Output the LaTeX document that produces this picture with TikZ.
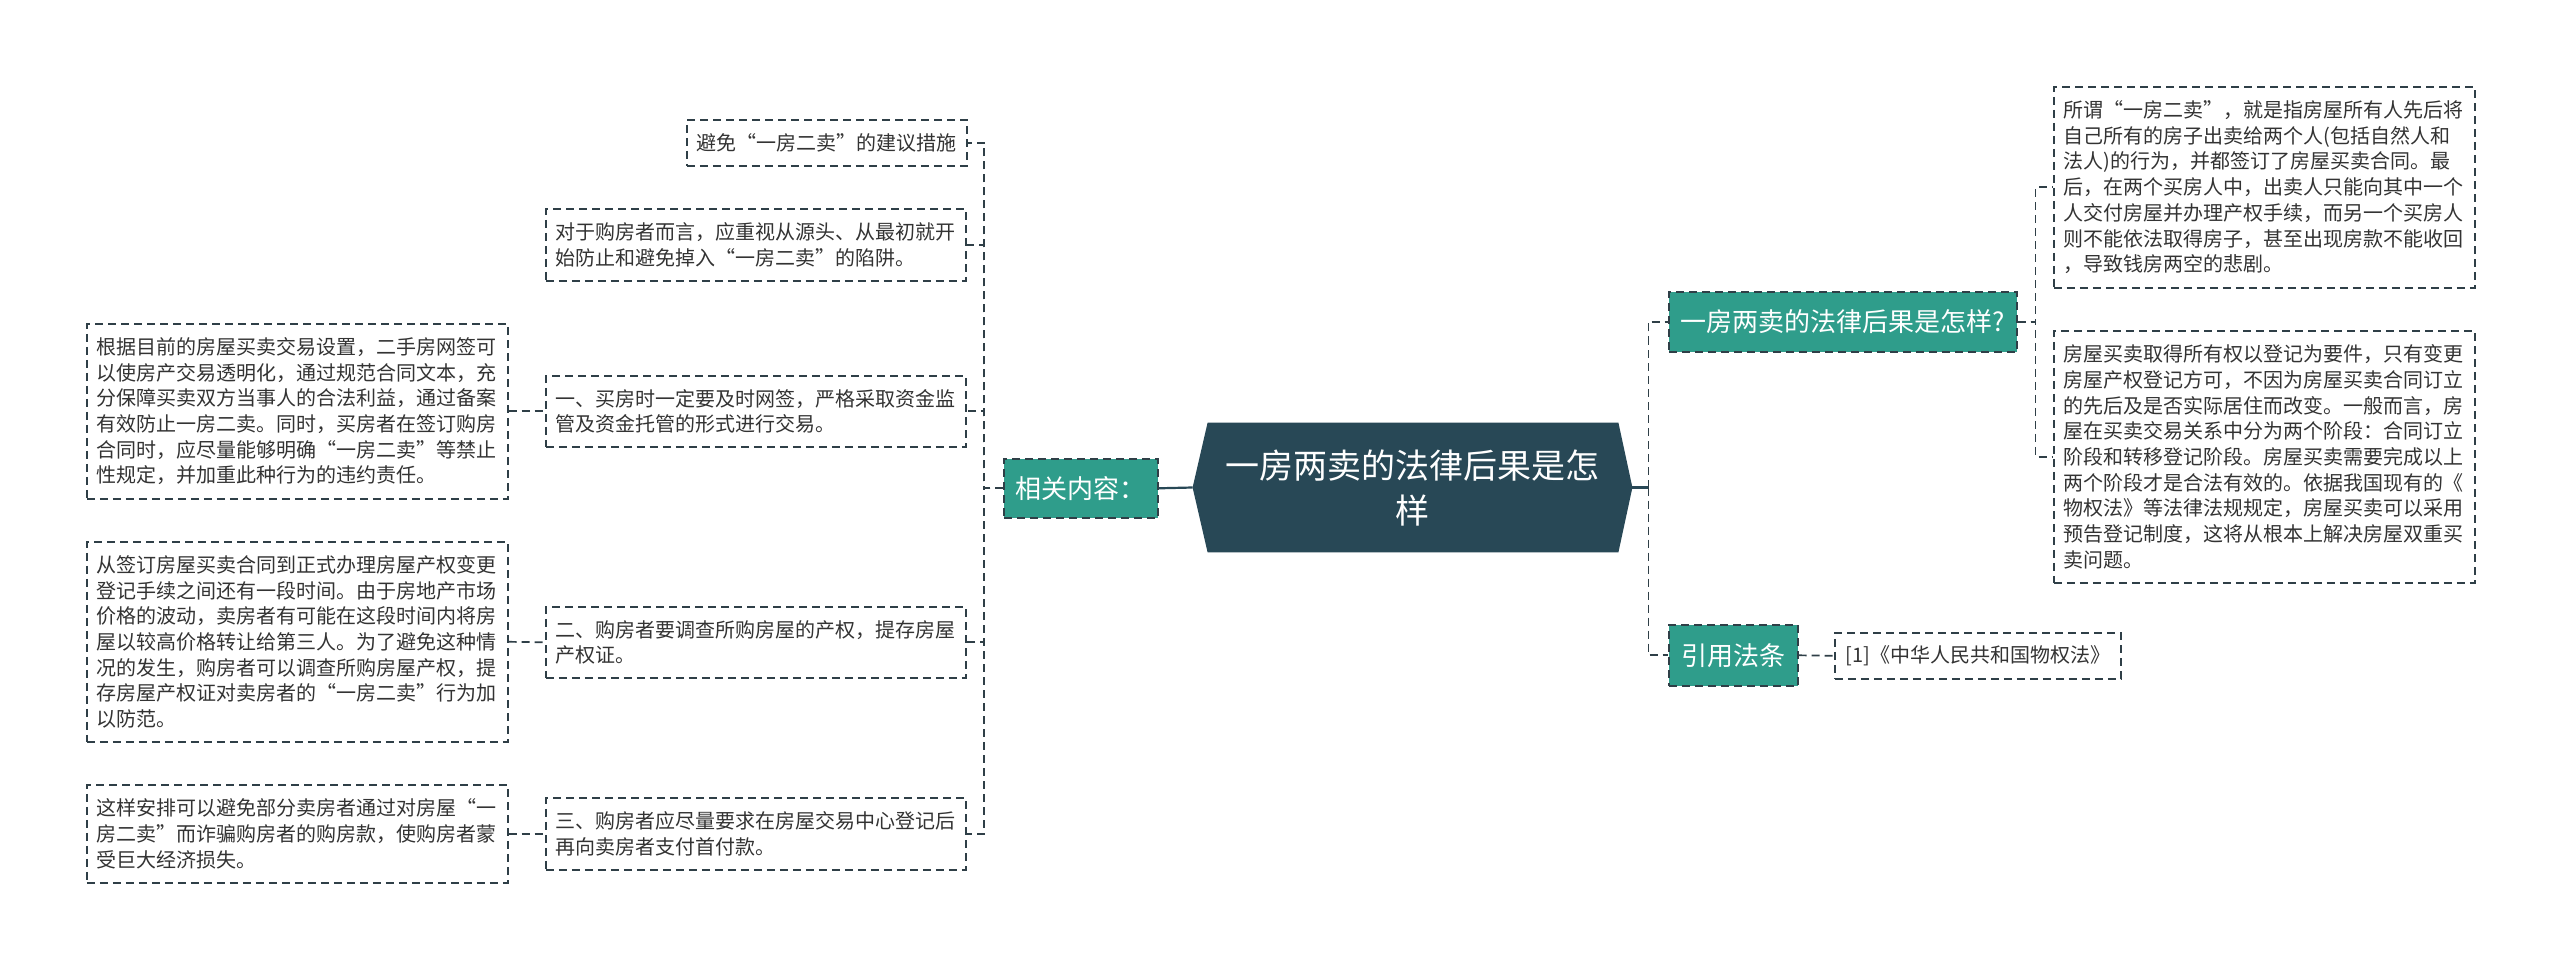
\documentclass[tikz,border=0pt]{standalone}
\usepackage{fontspec}
\setmainfont{Noto Sans CJK SC}
\usetikzlibrary{calc,backgrounds}
\definecolor{dk}{HTML}{284856}
\definecolor{tealc}{HTML}{2F9D8B}
\definecolor{txt}{HTML}{333333}
\definecolor{ln}{HTML}{2F3F47}
\begin{document}
\begin{tikzpicture}[x=0.5pt,y=-0.5pt,
  conn/.style={draw=ln, line width=0.85pt, dash pattern=on 4pt off 2.5pt},
  solidconn/.style={draw=dk, line width=1.1pt},
  box/.style={draw=ln, line width=0.8pt, dash pattern=on 4pt off 2.5pt, anchor=north west,
    inner xsep=5pt, inner ysep=2pt, text=txt, font=\fontsize{10}{12.85}\selectfont},
  multi/.style={box, align=left},
  single/.style={box, align=center},
  topic/.style={draw=ln, fill=tealc, line width=0.8pt, dash pattern=on 4pt off 2.5pt, anchor=north west,
    inner sep=2pt, text=white, align=center, font=\fontsize{13}{16}\selectfont},
]
\useasboundingbox (0,0) rectangle (2560,968);

% root
\node[minimum width=219.5pt, minimum height=64.5pt, inner sep=0pt, text=white, align=center,
  font=\fontsize{17}{22.5}\selectfont] (root) at (1412.5,487.5) {一房两卖的法律后果是怎\\样};
\begin{scope}[on background layer]
\fill[white] (0,0) rectangle (2560,968);
\fill[dk] (root.west) -- ($(root.north west)+(15,0)$) -- ($(root.north east)+(-14,0)$) -- (root.east)
  -- ($(root.south east)+(-14,0)$) -- ($(root.south west)+(15,0)$) -- cycle;
\end{scope}

% left branch
\node[topic, minimum width=77pt, minimum height=29.5pt] (related) at (1003,458) {相关内容：};

\node[single, minimum width=139.5pt, minimum height=23pt] (avoid) at (686,119) {避免“一房二卖”的建议措施};
\node[multi, minimum width=210pt, minimum height=36pt, text width=200pt] (foryou) at (545,208)
  {对于购房者而言，应重视从源头、从最初就开\\始防止和避免掉入“一房二卖”的陷阱。};
\node[multi, minimum width=210pt, minimum height=35.5pt, text width=200pt] (one) at (545,375)
  {一、买房时一定要及时网签，严格采取资金监\\管及资金托管的形式进行交易。};
\node[multi, minimum width=210.5pt, minimum height=87.5pt, text width=200.5pt] (oned) at (86,323)
  {根据目前的房屋买卖交易设置，二手房网签可\\以使房产交易透明化，通过规范合同文本，充\\分保障买卖双方当事人的合法利益，通过备案\\有效防止一房二卖。同时，买房者在签订购房\\合同时，应尽量能够明确“一房二卖”等禁止\\性规定，并加重此种行为的违约责任。};
\node[multi, minimum width=210pt, minimum height=35.5pt, text width=200pt] (two) at (545,606)
  {二、购房者要调查所购房屋的产权，提存房屋\\产权证。};
\node[multi, minimum width=210.5pt, minimum height=100pt, text width=200.5pt] (twod) at (86,541)
  {从签订房屋买卖合同到正式办理房屋产权变更\\登记手续之间还有一段时间。由于房地产市场\\价格的波动，卖房者有可能在这段时间内将房\\屋以较高价格转让给第三人。为了避免这种情\\况的发生，购房者可以调查所购房屋产权，提\\存房屋产权证对卖房者的“一房二卖”行为加\\以防范。};
\node[multi, minimum width=210pt, minimum height=36pt, text width=200pt] (three) at (545,797)
  {三、购房者应尽量要求在房屋交易中心登记后\\再向卖房者支付首付款。};
\node[multi, minimum width=210.5pt, minimum height=49pt, text width=200.5pt] (threed) at (86,784)
  {这样安排可以避免部分卖房者通过对房屋“一\\房二卖”而诈骗购房者的购房款，使购房者蒙\\受巨大经济损失。};

% right branch
\node[topic, minimum width=174pt, minimum height=30pt] (q) at (1668,291) {一房两卖的法律后果是怎样?};
\node[multi, minimum width=210.5pt, minimum height=100.5pt, text width=200.5pt] (qd1) at (2053,86)
  {所谓“一房二卖”，就是指房屋所有人先后将\\自己所有的房子出卖给两个人(包括自然人和\\法人)的行为，并都签订了房屋买卖合同。最\\后，在两个买房人中，出卖人只能向其中一个\\人交付房屋并办理产权手续，而另一个买房人\\则不能依法取得房子，甚至出现房款不能收回\\，导致钱房两空的悲剧。};
\node[multi, minimum width=210.5pt, minimum height=126pt, text width=200.5pt] (qd2) at (2053,330)
  {房屋买卖取得所有权以登记为要件，只有变更\\房屋产权登记方可，不因为房屋买卖合同订立\\的先后及是否实际居住而改变。一般而言，房\\屋在买卖交易关系中分为两个阶段：合同订立\\阶段和转移登记阶段。房屋买卖需要完成以上\\两个阶段才是合法有效的。依据我国现有的《\\物权法》等法律法规规定，房屋买卖可以采用\\预告登记制度，这将从根本上解决房屋双重买\\卖问题。};
\node[topic, minimum width=64.5pt, minimum height=30.5pt] (law) at (1668,624) {引用法条};
\node[single, minimum width=143pt, minimum height=23pt, inner xsep=3pt] (lawd) at (1834,632) {[1]《中华人民共和国物权法》};

% connectors
\draw[solidconn] (related.east) -- (root.west);
\foreach \c in {avoid,foryou,one,two,three}{
  \draw[conn] (related.west) -- ++(-19,0) |- (\c.east);
}
\draw[conn] (oned.east) -- (one.west);
\draw[conn] (twod.east) -- (two.west);
\draw[conn] (threed.east) -- (three.west);

\draw[solidconn] (root.east) -- ++(16,0);
\draw[conn] ([xshift=8pt]root.east) |- (q.west);
\draw[conn] ([xshift=8pt]root.east) |- (law.west);
\draw[conn] (q.east) -- ++(18,0) |- (qd1.west);
\draw[conn] (q.east) -- ++(18,0) |- (qd2.west);
\draw[conn] (law.east) -- (lawd.west);
\end{tikzpicture}
\end{document}
